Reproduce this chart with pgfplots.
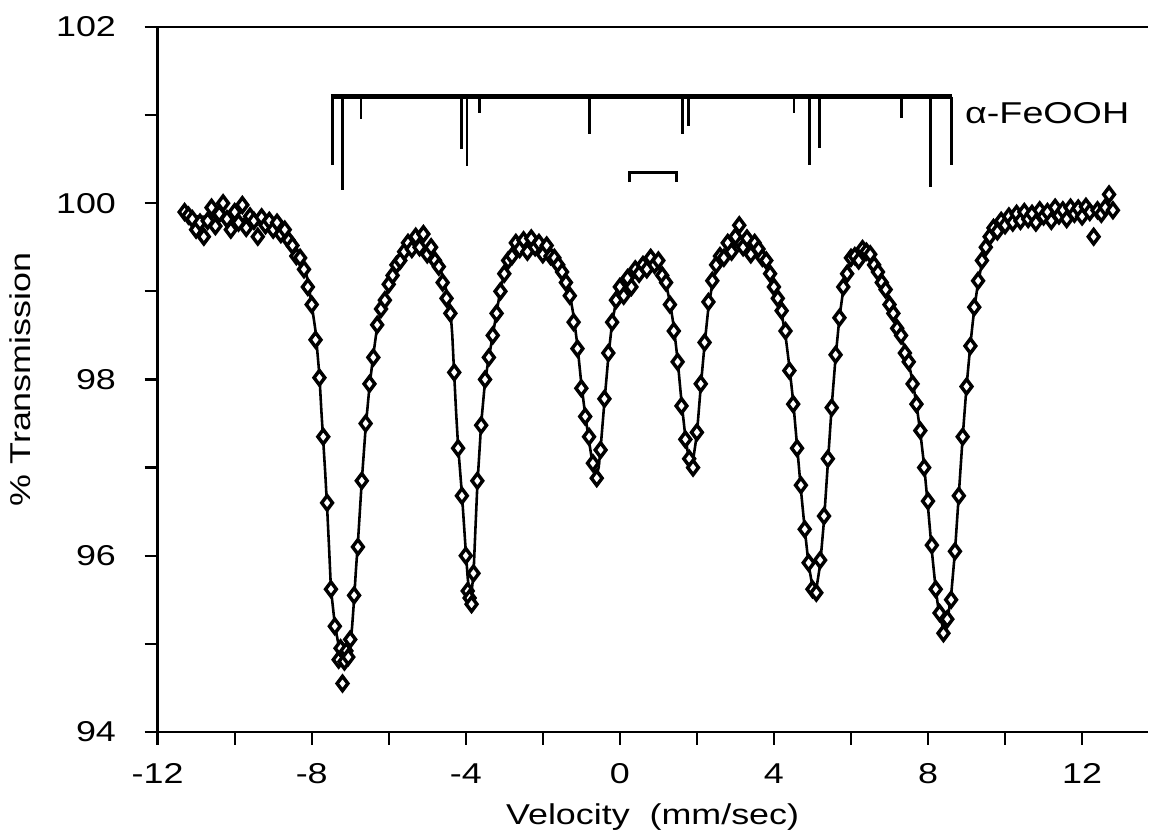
\documentclass[border=0pt]{standalone}
\usepackage{pgfplots}
\pgfplotsset{compat=1.18}
\usepackage{fontspec}
\setmainfont{Liberation Sans}[FakeStretch=1.25]
\begin{document}
\begin{tikzpicture}
\begin{axis}[
  scale only axis, width=345pt, height=245.7pt,
  xmin=-12, xmax=13.7, ymin=94, ymax=102,
  axis x line=box, axis y line=left,
  axis line style={line width=1pt,-},
  xtick={-12,-8,...,12}, minor xtick={-10,-6,...,10},
  ytick={94,96,...,102}, minor ytick={95,97,99,101},
  xtick pos=bottom,
  tick align=outside,
  major tick length=4.5pt, minor tick length=4.5pt,
  every tick/.style={black, line width=0.8pt},
  /pgf/number format/assume math mode=true,
  ticklabel style={font=\fontsize{10}{12}\selectfont},
  yticklabel style={xshift=-6.5pt},
  xticklabel style={yshift=-3pt},
  label style={font=\fontsize{10}{12}\selectfont},
  xlabel={Velocity\ \ (mm/sec)},
  ylabel={\% Transmission},
  ylabel style={yshift=2pt},
  clip=false,
]
% fitted curve
\addplot[black, line width=0.9pt] coordinates {
(-11.3,99.86) (-11.0,99.85) (-10.5,99.84) (-10.0,99.83) (-9.5,99.80) (-9.0,99.74) (-8.8,99.69) (-8.6,99.62) (-8.4,99.48) (-8.2,99.30) (-8.1,99.12) (-8.0,98.85) (-7.9,98.55) (-7.8,98.05) (-7.75,97.65) (-7.7,97.30) (-7.65,96.95) (-7.6,96.55) (-7.55,96.10) (-7.5,95.62) (-7.4,95.22) (-7.3,94.98) (-7.2,94.87) (-7.1,94.87) (-7.0,94.95) (-6.95,95.20) (-6.9,95.50) (-6.85,95.85) (-6.8,96.15) (-6.75,96.50) (-6.7,96.85) (-6.65,97.15) (-6.6,97.45) (-6.5,97.92) (-6.4,98.28) (-6.3,98.60) (-6.2,98.78) (-6.1,98.92) (-5.9,99.15) (-5.7,99.38) (-5.5,99.50) (-5.3,99.55) (-5.1,99.53) (-4.9,99.45) (-4.8,99.38) (-4.6,99.18) (-4.5,99.00) (-4.4,98.80) (-4.35,98.50) (-4.3,98.05) (-4.25,97.62) (-4.2,97.25) (-4.1,96.70) (-4.0,96.05) (-3.95,95.75) (-3.88,95.48) (-3.8,95.78) (-3.75,96.30) (-3.7,96.80) (-3.6,97.50) (-3.5,97.98) (-3.4,98.25) (-3.3,98.50) (-3.2,98.76) (-3.1,99.02) (-3.0,99.20) (-2.8,99.42) (-2.6,99.52) (-2.3,99.55) (-2.0,99.50) (-1.8,99.44) (-1.6,99.35) (-1.5,99.25) (-1.4,99.12) (-1.3,98.97) (-1.2,98.72) (-1.1,98.38) (-1.0,97.95) (-0.9,97.60) (-0.8,97.30) (-0.7,97.02) (-0.62,96.90) (-0.55,97.00) (-0.5,97.22) (-0.4,97.75) (-0.3,98.25) (-0.2,98.65) (-0.1,98.88) (0.0,99.00) (0.2,99.12) (0.4,99.20) (0.6,99.27) (0.8,99.33) (0.9,99.34) (1.0,99.30) (1.1,99.20) (1.2,99.08) (1.3,98.88) (1.4,98.60) (1.5,98.22) (1.6,97.75) (1.7,97.35) (1.8,97.07) (1.85,97.03) (1.9,97.08) (2.0,97.38) (2.1,97.92) (2.2,98.40) (2.3,98.82) (2.4,99.08) (2.5,99.26) (2.7,99.44) (3.0,99.52) (3.2,99.54) (3.4,99.52) (3.6,99.45) (3.8,99.33) (4.0,99.12) (4.1,98.95) (4.2,98.75) (4.3,98.50) (4.4,98.15) (4.5,97.75) (4.6,97.25) (4.7,96.75) (4.8,96.30) (4.9,95.90) (5.0,95.65) (5.05,95.60) (5.1,95.62) (5.2,95.90) (5.3,96.40) (5.4,97.05) (5.5,97.70) (5.6,98.25) (5.7,98.70) (5.8,99.02) (5.9,99.22) (6.0,99.35) (6.2,99.45) (6.4,99.46) (6.6,99.38) (6.8,99.15) (7.0,98.88) (7.2,98.62) (7.4,98.35) (7.5,98.18) (7.6,97.98) (7.7,97.72) (7.8,97.40) (7.9,97.02) (8.0,96.55) (8.1,96.05) (8.2,95.62) (8.3,95.30) (8.4,95.18) (8.5,95.25) (8.6,95.55) (8.7,96.05) (8.8,96.70) (8.9,97.35) (9.0,97.92) (9.1,98.40) (9.2,98.80) (9.3,99.10) (9.4,99.32) (9.6,99.58) (9.8,99.72) (10.0,99.78) (10.5,99.84) (11.0,99.87) (11.5,99.89) (12.0,99.91) (12.8,99.93)
};
% measured points
\addplot[only marks, mark=diamond*, mark size=2.5pt, mark options={fill=white, draw=black, line width=1.2pt}] coordinates {
(-11.3,99.90) (-11.2,99.86) (-11.1,99.82) (-11.0,99.70) (-10.9,99.78) (-10.8,99.62) (-10.7,99.80) (-10.6,99.95) (-10.5,99.74) (-10.4,99.88) (-10.3,100.00) (-10.2,99.82) (-10.1,99.70) (-10.0,99.90) (-9.9,99.78) (-9.8,99.98) (-9.7,99.72) (-9.6,99.85) (-9.5,99.80) (-9.4,99.62) (-9.3,99.84) (-9.2,99.75) (-9.1,99.80) (-9.0,99.70) (-8.9,99.78) (-8.8,99.65) (-8.7,99.70) (-8.6,99.58)
(-8.5,99.52) (-8.4,99.40) (-8.3,99.38) (-8.2,99.25) (-8.1,99.05) (-8.0,98.85) (-7.9,98.45) (-7.8,98.02) (-7.7,97.35) (-7.6,96.60) (-7.5,95.62) (-7.4,95.20) (-7.3,94.82) (-7.25,94.95) (-7.2,94.55) (-7.15,94.80) (-7.1,94.92) (-7.05,94.85) (-7.0,95.05) (-6.9,95.55) (-6.8,96.10) (-6.7,96.85) (-6.6,97.50) (-6.5,97.95) (-6.4,98.25) (-6.3,98.62) (-6.2,98.80) (-6.1,98.90) (-6.0,99.08) (-5.9,99.18) (-5.8,99.30) (-5.7,99.35) (-5.6,99.45) (-5.5,99.55) (-5.4,99.48) (-5.3,99.62) (-5.2,99.50) (-5.1,99.65) (-5.0,99.42) (-4.9,99.50) (-4.8,99.35) (-4.7,99.28) (-4.6,99.10) (-4.5,98.92) (-4.4,98.75) (-4.3,98.08) (-4.2,97.22) (-4.1,96.68) (-4.0,96.00) (-3.95,95.60) (-3.9,95.52) (-3.85,95.45) (-3.8,95.80) (-3.7,96.85) (-3.6,97.48) (-3.5,98.00) (-3.4,98.25) (-3.3,98.50) (-3.2,98.75) (-3.1,99.00) (-3.0,99.20) (-2.9,99.35) (-2.8,99.40) (-2.7,99.55) (-2.6,99.48) (-2.5,99.58) (-2.4,99.45) (-2.3,99.60) (-2.2,99.50) (-2.1,99.55) (-2.0,99.42) (-1.9,99.52) (-1.8,99.40) (-1.7,99.38) (-1.6,99.30) (-1.5,99.22) (-1.4,99.10) (-1.3,98.95) (-1.2,98.65) (-1.1,98.35) (-1.0,97.90) (-0.9,97.58) (-0.8,97.35) (-0.7,97.05) (-0.6,96.88) (-0.5,97.20) (-0.4,97.78) (-0.3,98.30) (-0.2,98.65) (-0.1,98.90) (0.0,99.05) (0.1,98.95) (0.2,99.15) (0.3,99.05) (0.4,99.25) (0.5,99.20) (0.6,99.30) (0.7,99.25) (0.8,99.38) (0.9,99.30) (1.0,99.35) (1.1,99.18) (1.2,99.10) (1.3,98.85) (1.4,98.55) (1.5,98.20) (1.6,97.70) (1.7,97.32) (1.8,97.10) (1.9,97.00) (2.0,97.40) (2.1,97.95) (2.2,98.42) (2.3,98.88) (2.4,99.12) (2.5,99.30) (2.6,99.40) (2.7,99.38) (2.8,99.55) (2.9,99.45) (3.0,99.62) (3.1,99.75) (3.2,99.50) (3.3,99.60) (3.4,99.42) (3.5,99.55) (3.6,99.48) (3.7,99.38) (3.8,99.35) (3.9,99.20) (4.0,99.05) (4.1,98.92) (4.2,98.78) (4.3,98.55) (4.4,98.10) (4.5,97.72) (4.6,97.22) (4.7,96.80) (4.8,96.30) (4.9,95.92) (5.0,95.62) (5.1,95.58) (5.2,95.95) (5.3,96.45) (5.4,97.10) (5.5,97.68) (5.6,98.28) (5.7,98.70) (5.8,99.05) (5.9,99.20) (6.0,99.38) (6.1,99.40) (6.2,99.35) (6.3,99.48) (6.4,99.45) (6.5,99.42) (6.6,99.30) (6.7,99.22) (6.8,99.10) (6.9,99.02) (7.0,98.85) (7.1,98.75) (7.2,98.58) (7.3,98.50) (7.4,98.30) (7.5,98.20) (7.6,97.95) (7.7,97.72) (7.8,97.42) (7.9,97.00) (8.0,96.62) (8.1,96.12) (8.2,95.62) (8.3,95.35) (8.4,95.12) (8.5,95.28) (8.6,95.50) (8.7,96.05) (8.8,96.68) (8.9,97.35) (9.0,97.92) (9.1,98.38) (9.2,98.82) (9.3,99.12) (9.4,99.35) (9.5,99.50) (9.6,99.62) (9.7,99.72) (9.8,99.68) (9.9,99.80) (10.0,99.75) (10.1,99.85) (10.2,99.78) (10.3,99.88) (10.4,99.80) (10.5,99.90) (10.6,99.82) (10.7,99.88) (10.8,99.78) (10.9,99.92) (11.0,99.85) (11.1,99.90) (11.2,99.80) (11.3,99.95) (11.4,99.86) (11.5,99.92) (11.6,99.82) (11.7,99.95) (11.8,99.88) (11.9,99.94) (12.0,99.85) (12.1,99.96) (12.2,99.90) (12.3,99.62) (12.4,99.92) (12.5,99.88) (12.6,99.95) (12.7,100.10) (12.8,99.92)
};
% stick diagram
\addplot[black, line width=1.5pt] coordinates {(-7.50,101.21) (8.62,101.21)};
\addplot[black, line width=1pt] coordinates {(-7.47,101.21) (-7.47,100.43)};
\addplot[black, line width=1pt] coordinates {(-7.21,101.21) (-7.21,100.15)};
\addplot[black, line width=1pt] coordinates {(-6.72,101.21) (-6.72,100.95)};
\addplot[black, line width=1pt] coordinates {(-4.10,101.21) (-4.10,100.62)};
\addplot[black, line width=1pt] coordinates {(-3.97,101.21) (-3.97,100.42)};
\addplot[black, line width=1pt] coordinates {(-3.65,101.21) (-3.65,101.02)};
\addplot[black, line width=1pt] coordinates {(-0.78,101.21) (-0.78,100.79)};
\addplot[black, line width=1pt] coordinates {(1.63,101.21) (1.63,100.79)};
\addplot[black, line width=1pt] coordinates {(1.79,101.21) (1.79,100.88)};
\addplot[black, line width=1pt] coordinates {(4.52,101.21) (4.52,101.02)};
\addplot[black, line width=1pt] coordinates {(4.92,101.21) (4.92,100.43)};
\addplot[black, line width=1pt] coordinates {(5.18,101.21) (5.18,100.63)};
\addplot[black, line width=1pt] coordinates {(7.32,101.21) (7.32,100.97)};
\addplot[black, line width=1pt] coordinates {(8.07,101.21) (8.07,100.18)};
\addplot[black, line width=1pt] coordinates {(8.60,101.21) (8.60,100.43)};
\addplot[black, line width=1pt] coordinates {(0.26,100.24) (0.26,100.35) (1.48,100.35) (1.48,100.24)};
\node[anchor=west, font=\fontsize{10.5}{12}\selectfont, inner sep=0pt] at (axis cs:8.95,101.02) {α-FeOOH};
\end{axis}
\path ([yshift=9.4pt]current axis.north west);
\end{tikzpicture}
\end{document}
